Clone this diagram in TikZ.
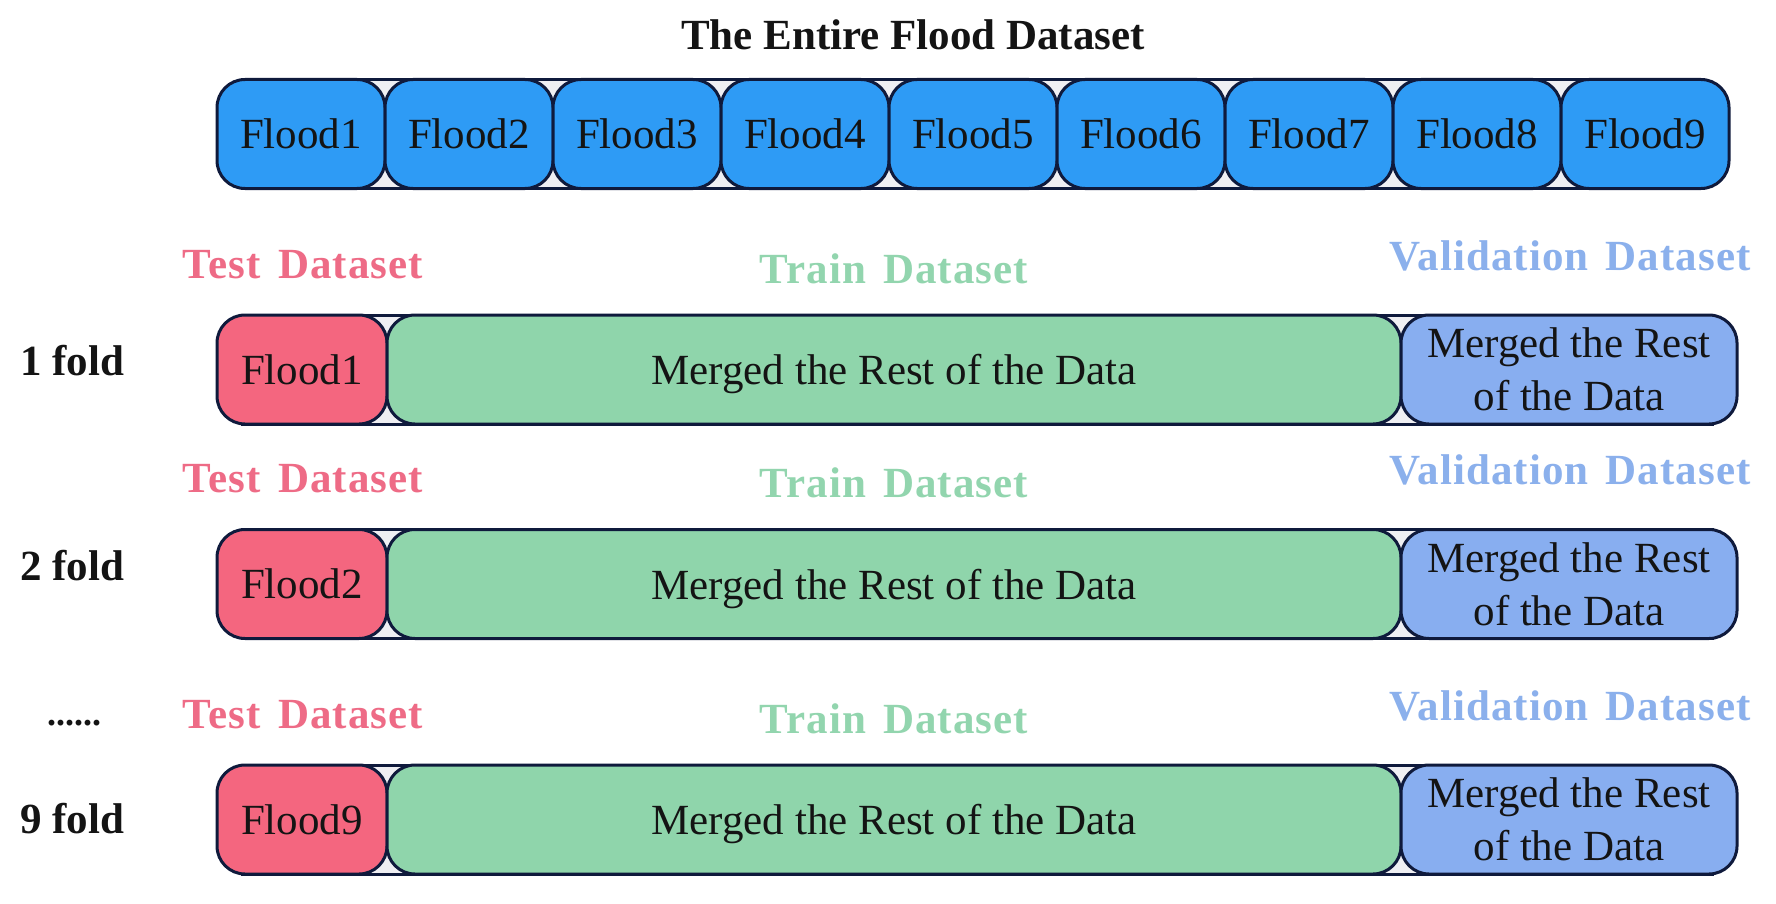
\documentclass[tikz,border=0pt]{standalone}
\usepackage{fontspec}
\setmainfont{Liberation Serif}
\usetikzlibrary{calc}
\definecolor{edge}{HTML}{0F1A3C}
\definecolor{gapgrey}{HTML}{EFEFF3}
\definecolor{floodblue}{HTML}{2E9BF5}
\definecolor{testred}{HTML}{F4667F}
\definecolor{traingreen}{HTML}{8FD5AB}
\definecolor{valblue}{HTML}{88AEF0}
\definecolor{testlabel}{HTML}{EE6B86}
\definecolor{trainlabel}{HTML}{92D5AE}
\definecolor{vallabel}{HTML}{8BB0EC}
\definecolor{ink}{HTML}{141414}
\newcommand{\labelgap}{\hspace{0.4em}}
\begin{document}
\begin{tikzpicture}[x=0.5pt,y=-0.5pt,
  txt/.style={font=\fontsize{21.5}{26.5}\selectfont, text=ink},
  frame/.style={draw=edge, line width=1.5pt, fill=gapgrey, inner sep=0pt, minimum height=54.5pt},
  part/.style={txt, draw=edge, line width=1.5pt, rounded corners=14pt, inner sep=0pt, minimum height=54.5pt, align=center},
  flood/.style={part, fill=floodblue, minimum width=84pt},
  testbox/.style={part, fill=testred, minimum width=85pt},
  trainbox/.style={part, fill=traingreen, minimum width=507pt, text height=15pt, text depth=0pt},
  valbox/.style={part, fill=valblue, minimum width=168pt},
  lbl/.style={font=\fontsize{21.5}{24}\selectfont\bfseries\addfontfeature{LetterSpace=2.5}, anchor=base},
  headlbl/.style={font=\fontsize{21.5}{24}\selectfont\bfseries, text=ink, anchor=base},
  foldlbl/.style={font=\fontsize{21.5}{24}\selectfont\bfseries, text=ink, anchor=base west},
]
\useasboundingbox (0,0) rectangle (1776,904);

% title
\node[headlbl] (title) at (913,50) {The Entire Flood Dataset};

% the whole dataset split into nine floods
\node[frame, minimum width=730.5pt] (allframe) at (972.5,134) {};
\foreach \i in {1,...,9}{
  \node[flood] (f\i) at ({217+84+168*(\i-1)},134) {Flood\i};
}

% one row per fold: test flood, merged training data, merged validation data
\foreach \k/\lab/\yc in {1/1/369.5, 2/2/584, 3/9/819.5}{
  \node[frame, minimum width=735pt] (row\k) at (977,\yc) {};
  \node[testbox] (test\k) at (302,\yc) {Flood\lab};
  \node[trainbox] (train\k) at (894,\yc) {Merged the Rest of the Data};
  \node[valbox] (val\k) at (1569,\yc) {Merged the Rest\\of the Data};
  \node[lbl, text=testlabel] (testlbl\k) at ($(303,\yc)+(0,-91.5)$) {Test\labelgap Dataset};
  \node[lbl, text=trainlabel] (trainlbl\k) at ($(894,\yc)+(0,-86.5)$) {Train\labelgap Dataset};
  \node[lbl, text=vallabel] (vallbl\k) at ($(1570,\yc)+(0,-99.5)$) {Validation\labelgap Dataset};
}

% fold names
\node[foldlbl] (fold1) at (13,375) {1 fold};
\node[foldlbl] (fold2) at (13,580) {2 fold};
\node[headlbl, font=\fontsize{18}{20}\selectfont\bfseries] (dots) at (74,725) {......};
\node[foldlbl] (fold9) at (13,833) {9 fold};
\end{tikzpicture}
\end{document}
